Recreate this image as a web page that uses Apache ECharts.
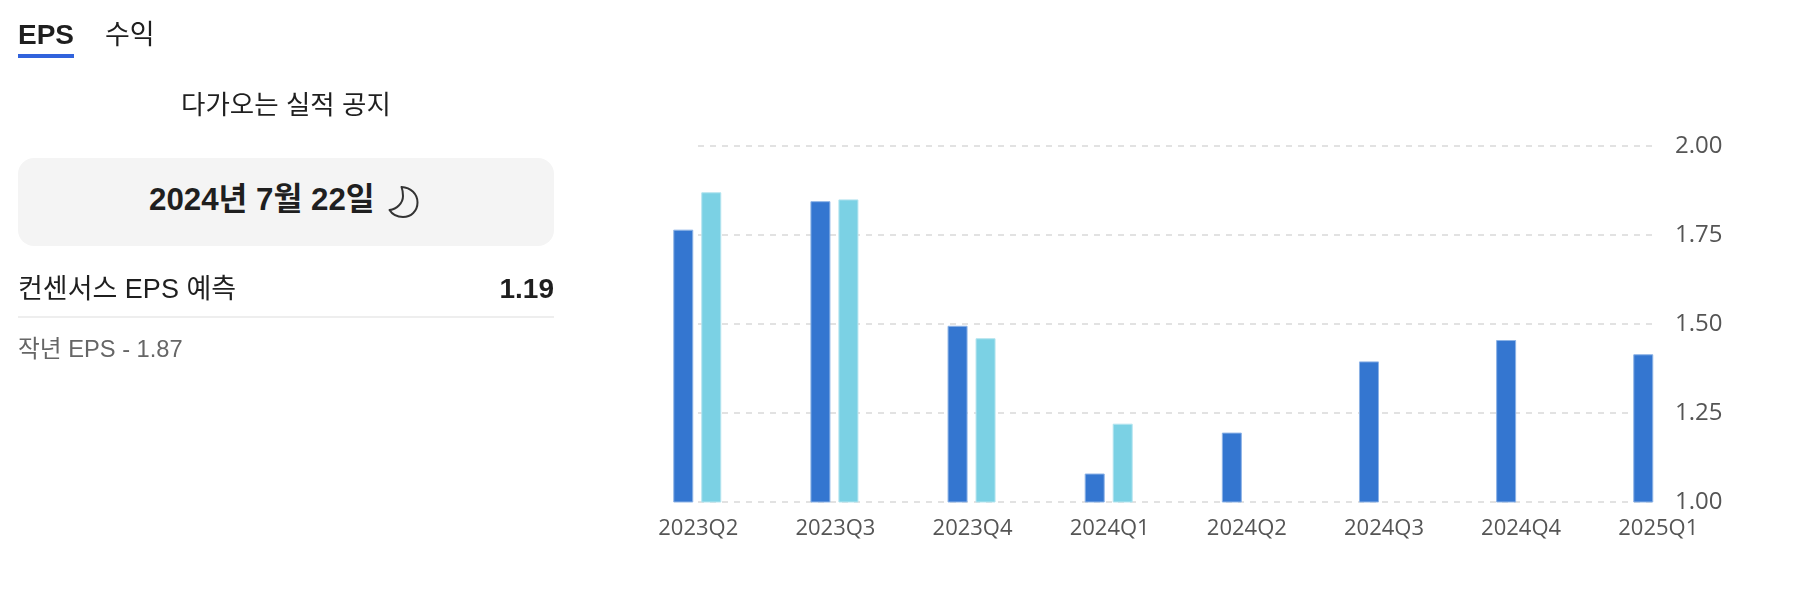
<!DOCTYPE html>
<html lang="ko">
<head>
<meta charset="utf-8">
<title>EPS</title>
<script src="https://cdn.jsdelivr.net/npm/echarts@6/dist/echarts.min.js"></script>
<style>
  html, body { margin: 0; padding: 0; background: #fff; }
  body {
    position: relative;
    width: 1814px;
    height: 590px;
    overflow: hidden;
    font-family: "Liberation Sans", "Noto Sans CJK KR", sans-serif;
    color: #1f1f1f;
  }
  .abs { position: absolute; white-space: nowrap; }
  #chart { position: absolute; left: 0; top: 0; width: 1814px; height: 590px; }
  .tab { top: 18px; line-height: 34px; }
  .tab.active { left: 18px; font-size: 28px; font-weight: bold; }
  .underline { left: 18px; top: 54px; width: 56px; height: 4px; background: #3163dc; }
  .heading { left: 18px; width: 536px; top: 88px; line-height: 34px; font-size: 26.5px; text-align: center; }
  .date-box { left: 18px; top: 158px; width: 536px; height: 88px; border-radius: 16px; background: #f4f4f4; }
  .date { left: 149px; top: 182px; line-height: 36px; font-size: 31.3px; font-weight: bold; }
  .moon { left: 388px; top: 185px; }
  .row-label { left: 18px; top: 271px; line-height: 36px; font-size: 27px; }
  .row-value { right: 1260px; top: 271px; line-height: 36px; font-size: 28px; font-weight: bold; }
  .rule { left: 18px; top: 316px; width: 536px; height: 2px; background: #eeeeee; }
  .last-year { left: 18px; top: 334px; line-height: 30px; font-size: 23.7px; color: #666; }
</style>
</head>
<body>
<div id="chart"></div>

<div class="abs tab active">EPS</div>
<div class="abs tab" style="left:105px;font-size:27px">수익</div>
<div class="abs underline"></div>
<div class="abs heading">다가오는 실적 공지</div>
<div class="abs date-box"></div>
<div class="abs date">2024년 7월 22일</div>
<svg class="abs moon" width="32" height="34" viewBox="0 0 32 34" fill="none" stroke="#333" stroke-width="2" stroke-linejoin="round">
  <path d="M13.5 2 C23 2.5 29.5 9 29.5 17.5 C29.5 26 23 32 15 32 C9 32 4 29 1.5 25 C9 24 15 18 15 11 C15 7.5 14.5 4.5 13.5 2 Z"/>
</svg>
<div class="abs row-label">컨센서스 EPS 예측</div>
<div class="abs row-value">1.19</div>
<div class="abs rule"></div>
<div class="abs last-year">작년 EPS - 1.87</div>

<script>
// Values
const quarters = ['2023Q2', '2023Q3', '2023Q4', '2024Q1', '2024Q2', '2024Q3', '2024Q4', '2025Q1'];
const estimateEps = [1.765, 1.845, 1.495, 1.08, 1.195, 1.395, 1.455, 1.415];
const actualEps = [1.87, 1.85, 1.46, 1.22, null, null, null, null];
const epsTicks = { min: 1, max: 2, interval: 0.25 };

const chart = echarts.init(document.getElementById('chart'));

const labelStyle = {
    color: '#555',
    fontFamily: '"Open Sans"'
};

chart.setOption({
    animation: false,
    // Bars hang past the gridlines, so they get a wider band grid; the second grid holds the gridlines
    grid: [
        { left: 628.7, width: 1097.14, top: 146, height: 356 },
        { left: 698, width: 960, top: 146, height: 356 }
    ],
    xAxis: [
        {
            type: 'category',
            gridIndex: 0,
            data: quarters,
            axisLine: { show: false },
            axisTick: { show: false },
            splitLine: { show: false },
            axisLabel: { ...labelStyle, fontSize: 22, interval: 0, margin: 16, padding: [0, 0, 0, 2] }
        },
        {
            type: 'category',
            gridIndex: 1,
            data: quarters,
            boundaryGap: false,
            show: false
        }
    ],
    yAxis: [
        { type: 'value', gridIndex: 0, ...epsTicks, show: false, splitLine: { show: false } },
        {
            type: 'value',
            gridIndex: 1,
            position: 'right',
            ...epsTicks,
            axisLine: { show: false },
            axisTick: { show: false },
            splitLine: { lineStyle: { color: '#e2e2e2', width: 2, type: [6, 6] } },
            axisLabel: { ...labelStyle, fontSize: 24, margin: 17, padding: [8, 0, 0, 0], formatter: (v) => v.toFixed(2) }
        }
    ],
    series: [
        {
            name: 'estimate',
            type: 'bar',
            xAxisIndex: 0,
            yAxisIndex: 0,
            data: estimateEps,
            barWidth: 20,
            barGap: '40%',
            itemStyle: { color: '#3476d0', borderColor: '#8db3e6', borderWidth: 1 }
        },
        {
            name: 'actual',
            type: 'bar',
            xAxisIndex: 0,
            yAxisIndex: 0,
            data: actualEps,
            barWidth: 20,
            itemStyle: { color: '#7bd1e4', borderColor: '#b4e4ef', borderWidth: 1 }
        }
    ]
});
</script>
</body>
</html>
